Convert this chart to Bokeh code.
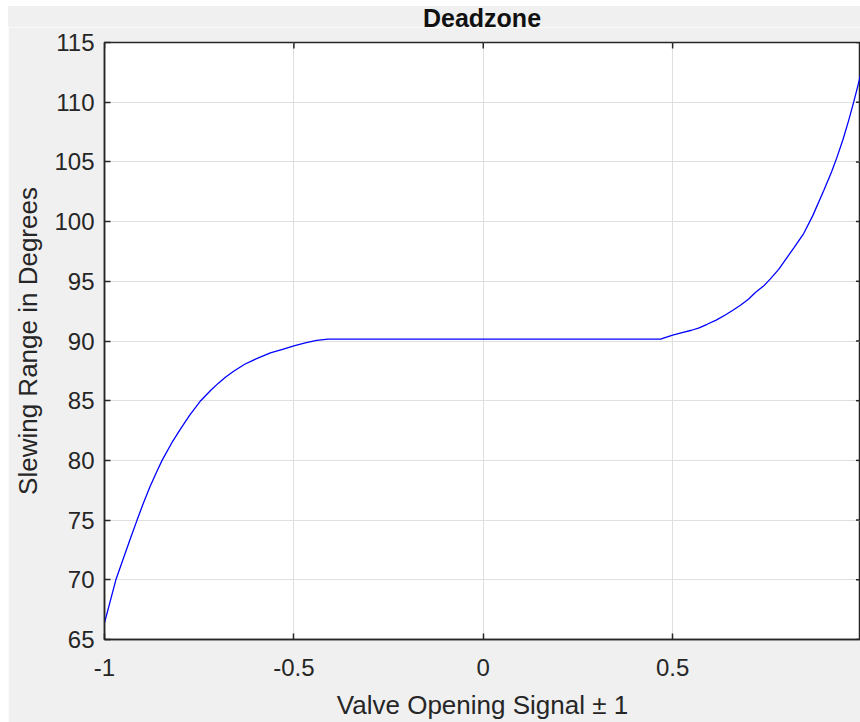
from bokeh.plotting import figure
from bokeh.models import FixedTicker, Range1d, Div
from bokeh.layouts import column
from bokeh.embed import file_html
from bokeh.resources import INLINE

# Data
x_signal = [-1.0, -0.985, -0.97, -0.95, -0.93, -0.914, -0.9, -0.88, -0.86, -0.848,
            -0.82, -0.80, -0.775, -0.746, -0.72, -0.70, -0.68, -0.66, -0.63, -0.60,
            -0.562, -0.53, -0.50, -0.47, -0.44, -0.41, -0.2, 0.0, 0.2, 0.468,
            0.50, 0.525, 0.55, 0.57, 0.591, 0.615, 0.64, 0.66, 0.679, 0.70,
            0.72, 0.74, 0.758, 0.78, 0.80, 0.82, 0.846, 0.87, 0.899, 0.92,
            0.934, 0.95, 0.965, 0.978, 0.99, 1.0]
y_slew = [66.4, 68.2, 70.0, 71.8, 73.6, 75.0, 76.2, 77.8, 79.2, 80.0,
          81.6, 82.6, 83.8, 85.0, 85.85, 86.45, 86.98, 87.45, 88.05, 88.5,
          89.0, 89.3, 89.6, 89.85, 90.05, 90.15, 90.15, 90.15, 90.15, 90.15,
          90.5, 90.7, 90.9, 91.1, 91.4, 91.75, 92.2, 92.6, 93.0, 93.5,
          94.1, 94.6, 95.2, 96.0, 96.9, 97.8, 99.0, 100.5, 102.6, 104.2,
          105.4, 106.9, 108.5, 110.0, 111.5, 112.8]
x_ticks = [-1, -0.5, 0, 0.5, 1]
y_ticks = [65, 70, 75, 80, 85, 90, 95, 100, 105, 110, 115]
title_text = "Deadzone"

AX = "#262626"
BG = "#f0f0f0"
FONT = "Liberation Sans"
X0, X1, Y0, Y1 = -1, 0.996, 65, 115

title = Div(
    text=('<div style="display:flex;">'
          '<div style="width:96px;flex:none;"></div>'
          '<div style="width:756px;flex:none;text-align:center;'
          "font-family:'Liberation Sans';font-weight:bold;font-size:25px;"
          'line-height:24px;color:#111111;">' + title_text + '</div></div>'),
    width=852, height=21, margin=(0, 0, 0, 0),
    styles={"background-color": BG})

p = figure(width=852, height=695, output_backend="svg", toolbar_location=None,
           x_range=Range1d(X0, X1), y_range=Range1d(Y0, Y1),
           min_border_left=96, min_border_top=15, min_border_bottom=81, min_border_right=0,
           background_fill_color="white", border_fill_color=BG, margin=(0, 0, 0, 0))

p.xgrid.ticker = FixedTicker(ticks=x_ticks)
p.ygrid.ticker = FixedTicker(ticks=y_ticks)
p.grid.grid_line_color = "#dfdfdf"
p.grid.grid_line_width = 1

# inward tick marks on the top and right edges (MATLAB box style)
p.segment(x0=x_ticks, y0=[Y1] * len(x_ticks), x1=x_ticks, y1=[Y1 - 0.5] * len(x_ticks),
          line_color=AX, line_width=1.5)
p.segment(x0=[1.0] * len(y_ticks), y0=y_ticks, x1=[1.0 - 0.016] * len(y_ticks), y1=y_ticks,
          line_color=AX, line_width=1.5)

p.line(x_signal, y_slew, line_color="#0000ff", line_width=1.3)

p.outline_line_color = AX
p.outline_line_width = 1.5

for ax in (p.xaxis[0], p.yaxis[0]):
    ax.axis_line_color = AX
    ax.axis_line_width = 1.5
    ax.major_tick_line_color = AX
    ax.major_tick_line_width = 1.5
    ax.major_tick_in = 6
    ax.major_tick_out = 0
    ax.minor_tick_line_color = None
    ax.major_label_text_font = FONT
    ax.major_label_text_font_size = "24px"
    ax.major_label_text_color = AX
    ax.axis_label_text_font = FONT
    ax.axis_label_text_font_size = "26px"
    ax.axis_label_text_font_style = "normal"
    ax.axis_label_text_color = AX

p.xaxis[0].ticker = FixedTicker(ticks=x_ticks)
p.yaxis[0].ticker = FixedTicker(ticks=y_ticks)
p.xaxis[0].major_label_overrides = {-1: "-1", -0.5: "-0.5", 0: "0", 0.5: "0.5", 1: "1"}
p.xaxis[0].axis_label = "Valve Opening Signal \u00b1 1"
p.yaxis[0].axis_label = "Slewing Range in Degrees"
p.xaxis[0].major_label_standoff = 19
p.yaxis[0].major_label_standoff = 10
p.xaxis[0].axis_label_standoff = 11
p.yaxis[0].axis_label_standoff = 8

layout = column(title, p, spacing=0, margin=(6, 0, 0, 8))

open("out.html", "w").write(file_html(layout, INLINE))
